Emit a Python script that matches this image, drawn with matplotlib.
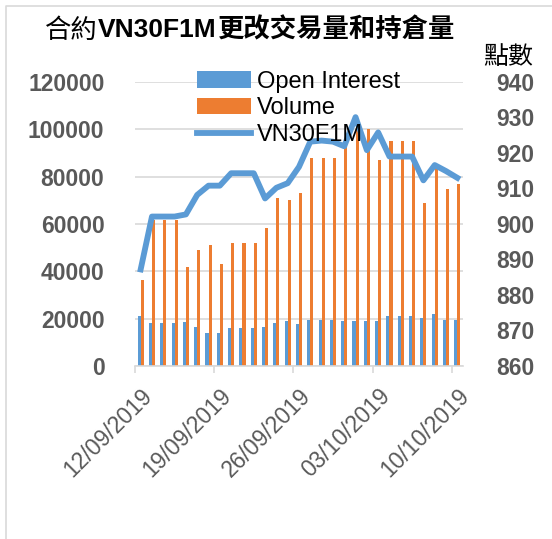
import matplotlib
matplotlib.use('Agg')
import matplotlib.pyplot as plt
from matplotlib.lines import Line2D
import numpy as np
import pandas as pd

plt.rcParams['font.family'] = ['Liberation Sans', 'Noto Sans CJK TC', 'DejaVu Sans']

# Datos
dates = pd.date_range('2019-09-12', periods=29, freq='D')
tick_labels = ['12/09/2019', '19/09/2019', '26/09/2019', '03/10/2019', '10/10/2019']
open_interest = [21100, 18300, 18300, 18300, 18600, 16600, 13800, 13800, 16200, 16200,
                 16200, 16600, 18300, 19100, 17600, 19400, 19400, 19400, 19000, 19000,
                 19000, 19000, 21100, 21100, 21100, 20400, 21800, 19400, 19400]
volume = [36300, 61600, 61600, 61600, 41700, 49000, 51200, 43100, 51800, 51800,
          51800, 58400, 70900, 70200, 73200, 87800, 87800, 87800, 93000, 101000,
          100000, 87000, 95000, 95000, 95000, 68800, 83500, 74700, 76900]
vn30 = [887.2, 902.1, 902.1, 902.1, 902.7, 908.2, 910.8, 910.8, 914.3, 914.3,
        914.3, 907.2, 910.2, 911.5, 916.1, 923.2, 923.5, 923.2, 921.9, 930.1,
        920.8, 925.8, 919.0, 919.0, 919.0, 912.3, 916.6, 914.9, 913.0]

blue = '#5B9BD5'
orange = '#ED7D31'
grey_txt = '#595959'
grid_c = '#D9D9D9'

W, H = 552, 539
fig = plt.figure(figsize=(W / 100, H / 100), dpi=100)
ax = fig.add_axes([135 / W, 1 - 366 / H, 328 / W, 284 / H])

x = np.arange(len(dates))
bw = 0.27
ax.bar(x - bw / 2, open_interest, width=bw, color=blue, label='Open Interest', zorder=2)
ax.bar(x + bw / 2, volume, width=bw, color=orange, label='Volume', zorder=2)

ax.set_xlim(-0.5, len(dates) - 0.5)
ax.set_ylim(0, 120000)
ax.set_yticks(np.arange(0, 120001, 20000))
ax.grid(axis='y', color=grid_c, linewidth=1.2, zorder=0)
ax.set_axisbelow(True)
for s in ['top', 'left', 'right']:
    ax.spines[s].set_visible(False)
ax.spines['bottom'].set_color(grid_c)
ax.spines['bottom'].set_linewidth(1.2)
ax.tick_params(axis='y', length=0, pad=22, labelsize=16.5, labelcolor=grey_txt)
for t in ax.get_yticklabels():
    t.set_fontweight('bold')

# etiquetas de fecha cada 7 días
ax.set_xticks(x[::7])
ax.set_xticklabels(tick_labels, rotation=45, ha='right', rotation_mode='anchor')
ax.set_xticks(x[::7] - 0.5, minor=True)
ax.tick_params(axis='x', which='major', length=0, pad=13, labelsize=16.5, labelcolor=grey_txt)
ax.tick_params(axis='x', which='minor', length=5, color=grid_c, width=1.2)

# eje secundario con el índice
ax2 = ax.twinx()
ax2.plot(x, vn30, color=blue, linewidth=4.2, solid_joinstyle='round', label='VN30F1M', zorder=3)
ax2.set_ylim(860, 940)
ax2.set_yticks(np.arange(860, 941, 10))
for s in ax2.spines.values():
    s.set_visible(False)
ax2.tick_params(axis='y', length=0, pad=24, labelsize=16.5, labelcolor=grey_txt)
for t in ax2.get_yticklabels():
    t.set_fontweight('bold')

# leyenda
h1, l1 = ax.get_legend_handles_labels()
h2, l2 = ax2.get_legend_handles_labels()
leg = ax2.legend(h1 + h2, l1 + l2, loc='upper left', bbox_to_anchor=(197 / W, 1 - 71 / H),
                 bbox_transform=fig.transFigure, frameon=False, fontsize=17,
                 borderpad=0, borderaxespad=0, handlelength=2.3, handletextpad=0.25,
                 labelspacing=0.19)

# título
fig.text(45 / W, 1 - 30 / H, '合約', fontsize=19, va='center', ha='left',
         family=['Noto Sans CJK TC'])
fig.text(98 / W, 1 - 30 / H, 'VN30F1M', fontsize=19, va='center', ha='left',
         fontweight='bold', family=['Liberation Sans'])
fig.text(218 / W, 1 - 30 / H, '更改交易量和持倉量', fontsize=19, va='center', ha='left',
         fontweight='bold', family=['Noto Sans CJK TC'])
fig.text(508 / W, 1 - 57 / H, '點數', fontsize=18, va='center', ha='center',
         family=['Noto Sans CJK TC'])

# borde del gráfico
fig.add_artist(Line2D([6 / W, 6 / W, 1], [0, 1 - 6 / H, 1 - 6 / H],
                      transform=fig.transFigure, color=grid_c, linewidth=1.2))

fig.savefig('out.png', dpi=100)
